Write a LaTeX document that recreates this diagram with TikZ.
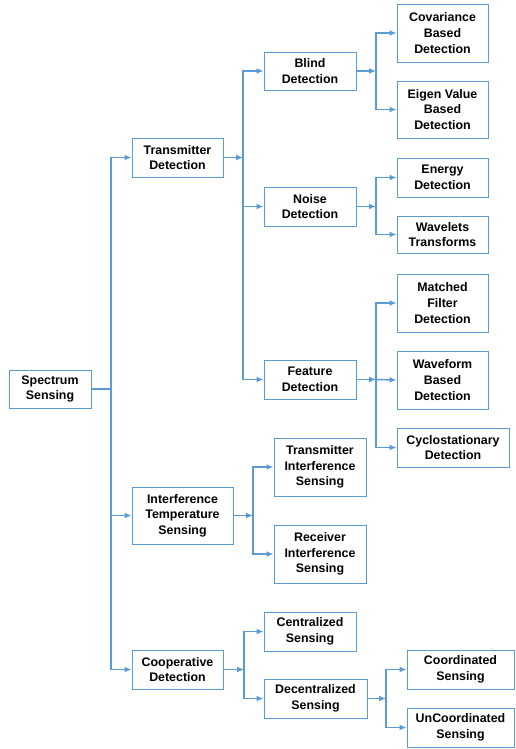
\documentclass[tikz,border=0pt]{standalone}
\usepackage{fontspec}
\setmainfont{Liberation Sans}
\usetikzlibrary{arrows.meta}
\definecolor{lblue}{HTML}{5B9BD5}
\tikzset{
  box/.style={draw=lblue, line width=0.9pt, fill=white, align=center, inner sep=0pt,
    font=\fontsize{12.4}{15.6}\selectfont\bfseries},
  conn/.style={draw=lblue, line width=1.5pt},
  arr/.style={conn, -{Latex[length=7pt,width=6pt]}}
}
\begin{document}
\begin{tikzpicture}[x=1pt,y=-1pt]
\useasboundingbox (0,0) rectangle (515,749);
% nodes
\node[box, minimum width=82pt, minimum height=38pt] (spec) at (50,389) {Spectrum\\Sensing};
\node[box, minimum width=91pt, minimum height=39pt] (td) at (177.5,157.5) {Transmitter\\Detection};
\node[box, minimum width=92pt, minimum height=38pt] (blind) at (310,71) {Blind\\Detection};
\node[box, minimum width=92pt, minimum height=39pt] (noise) at (310,206.5) {Noise\\Detection};
\node[box, minimum width=92pt, minimum height=39pt] (feat) at (310,379.5) {Feature\\Detection};
\node[box, minimum width=91pt, minimum height=58pt] (cov) at (442.5,33) {Covariance\\Based\\Detection};
\node[box, minimum width=91pt, minimum height=57pt] (eig) at (442.5,109.5) {Eigen Value\\Based\\Detection};
\node[box, minimum width=91pt, minimum height=39pt] (energy) at (442.5,177.5) {Energy\\Detection};
\node[box, minimum width=91pt, minimum height=37pt] (wav) at (442.5,234.5) {Wavelets\\Transforms};
\node[box, minimum width=91pt, minimum height=58pt] (match) at (442.5,303) {Matched\\Filter\\Detection};
\node[box, minimum width=91pt, minimum height=58pt] (wform) at (442.5,380) {Waveform\\Based\\Detection};
\node[box, minimum width=112pt, minimum height=39pt] (cyclo) at (453,447.5) {Cyclostationary\\Detection};
\node[box, minimum width=101pt, minimum height=57pt] (its) at (182.5,515.5) {Interference\\Temperature\\Sensing};
\node[box, minimum width=92pt, minimum height=58pt] (tis) at (320,467) {Transmitter\\Interference\\Sensing};
\node[box, minimum width=92pt, minimum height=58pt] (ris) at (320,554) {Receiver\\Interference\\Sensing};
\node[box, minimum width=91pt, minimum height=39pt] (coop) at (177.5,669.5) {Cooperative\\Detection};
\node[box, minimum width=92pt, minimum height=39pt] (cent) at (310,631.5) {Centralized\\Sensing};
\node[box, minimum width=103pt, minimum height=39pt] (dec) at (315.5,698.5) {Decentralized\\Sensing};
\node[box, minimum width=107pt, minimum height=39pt] (coord) at (460.5,669.5) {Coordinated\\Sensing};
\node[box, minimum width=107pt, minimum height=39pt] (uncoord) at (460.5,727.5) {UnCoordinated\\Sensing};
% junctions
\coordinate (j1) at (111,389);
\coordinate (j2) at (243,157.5);
\coordinate (j3) at (376,71);
\coordinate (j4) at (376,206.5);
\coordinate (j5) at (376,379.5);
\coordinate (j6) at (253,515.5);
\coordinate (j7) at (244,669.5);
\coordinate (j8) at (386,698.5);
% connectors
\draw[conn] (spec.east) -- (j1);
\draw[arr] (j1) |- (td.west);
\draw[arr] (j1) |- (its.west);
\draw[arr] (j1) |- (coop.west);

\draw[arr] (td.east) -- (j2);
\draw[arr] (j2) |- (blind.west);
\draw[arr] (j2) |- (noise.west);
\draw[arr] (j2) |- (feat.west);

\draw[arr] (blind.east) -- (j3);
\draw[arr] (j3) |- (cov.west);
\draw[arr] (j3) |- (eig.west);

\draw[arr] (noise.east) -- (j4);
\draw[arr] (j4) |- (energy.west);
\draw[arr] (j4) |- (wav.west);

\draw[arr] (feat.east) -- (j5);
\draw[arr] (j5) |- (match.west);
\draw[arr] (j5) -- (wform.west);
\draw[arr] (j5) |- (cyclo.west);

\draw[arr] (its.east) -- (j6);
\draw[arr] (j6) |- (tis.west);
\draw[arr] (j6) |- (ris.west);

\draw[arr] (coop.east) -- (j7);
\draw[arr] (j7) |- (cent.west);
\draw[arr] (j7) |- (dec.west);

\draw[arr] (dec.east) -- (j8);
\draw[arr] (j8) |- (coord.west);
\draw[arr] (j8) |- (uncoord.west);
\end{tikzpicture}
\end{document}
